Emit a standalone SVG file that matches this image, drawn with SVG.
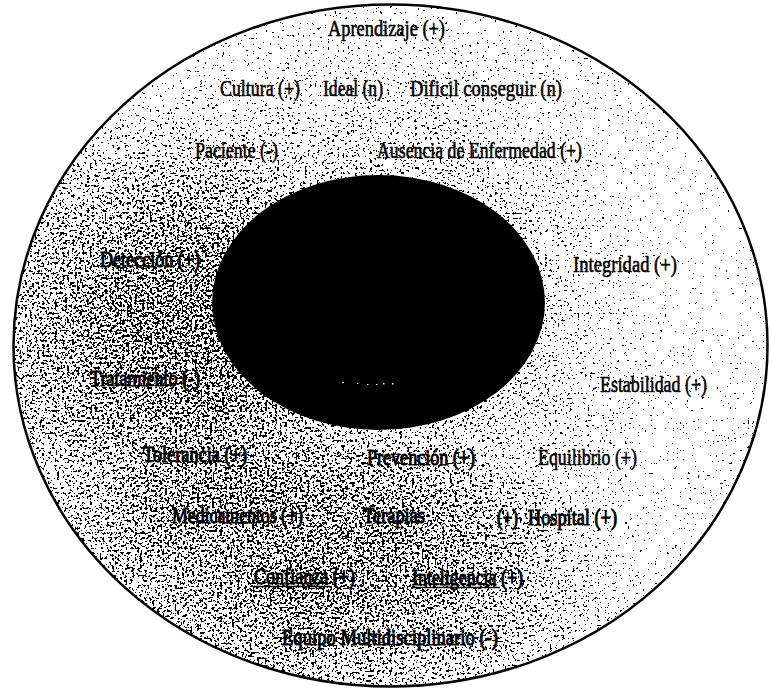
<svg xmlns="http://www.w3.org/2000/svg" width="772" height="691" viewBox="0 0 772 691">
<style>
  .lbl { font-family: "Liberation Serif", "Times New Roman", serif; font-size: 23px; fill: #000; stroke: #000; stroke-width: 0.6; }
  .bold { stroke-width: 1.1; }
  .ul { stroke: #000; stroke-width: 1.5; }
  .outer { fill: none; stroke: #000; stroke-width: 2.5; }
  .core { fill: #000; }
</style>
<defs>
  <clipPath id="outerClip"><ellipse cx="390.5" cy="345.5" rx="377" ry="341"/></clipPath>
  <filter id="speck" x="0" y="0" width="772" height="691" filterUnits="userSpaceOnUse" color-interpolation-filters="sRGB">
    <feTurbulence type="fractalNoise" baseFrequency="0.4" numOctaves="3" seed="11" result="n"/>
    <feColorMatrix in="n" type="matrix" values="1 0 0 0 0  1 0 0 0 0  1 0 0 0 0  0 0 0 0 1" result="g"/>
    <feComposite in="g" in2="SourceGraphic" operator="arithmetic" k1="0" k2="1" k3="1" k4="-0.5" result="v"/>
    <feColorMatrix in="v" type="matrix" values="0 0 0 0 0  0 0 0 0 0  0 0 0 0 0  1 0 0 0 0" result="a"/>
    <feComponentTransfer in="a"><feFuncA type="discrete" tableValues="0 1"/></feComponentTransfer>
  </filter>
  <radialGradient id="dLeft" gradientUnits="userSpaceOnUse" cx="120" cy="330" r="250">
    <stop offset="0" stop-color="#fff" stop-opacity="0.27"/>
    <stop offset="0.5" stop-color="#fff" stop-opacity="0.19"/>
    <stop offset="1" stop-color="#fff" stop-opacity="0"/>
  </radialGradient>
  <radialGradient id="dBottom" gradientUnits="userSpaceOnUse" cx="310" cy="590" r="270" gradientTransform="translate(310 590) scale(1.3 0.6) translate(-310 -590)">
    <stop offset="0" stop-color="#fff" stop-opacity="0.27"/>
    <stop offset="0.6" stop-color="#fff" stop-opacity="0.18"/>
    <stop offset="1" stop-color="#fff" stop-opacity="0"/>
  </radialGradient>
  <radialGradient id="dRing" gradientUnits="userSpaceOnUse" cx="370" cy="320" r="320">
    <stop offset="0.4" stop-color="#fff" stop-opacity="0.15"/>
    <stop offset="1" stop-color="#fff" stop-opacity="0"/>
  </radialGradient>
  <radialGradient id="dRight" gradientUnits="userSpaceOnUse" cx="720" cy="250" r="200">
    <stop offset="0" stop-color="#000" stop-opacity="0.15"/>
    <stop offset="1" stop-color="#000" stop-opacity="0"/>
  </radialGradient>
</defs>

<rect width="772" height="691" fill="#fff"/>

<g id="texture" clip-path="url(#outerClip)">
  <g filter="url(#speck)">
    <rect width="772" height="691" fill="#424242"/>
    <rect width="772" height="691" fill="url(#dRing)"/>
    <rect width="772" height="691" fill="url(#dLeft)"/>
    <rect width="772" height="691" fill="url(#dBottom)"/>
    <rect width="772" height="691" fill="url(#dRight)"/>
  </g>
</g>

<g id="outer-ellipse">
  <ellipse class="outer" cx="390.5" cy="345.5" rx="377" ry="341"/>
</g>

<g id="core">
  <ellipse class="core" cx="378.5" cy="302.5" rx="166.5" ry="127.5"/>
  <g fill="#fff">
    <rect x="342" y="382" width="2" height="1"/>
    <rect x="357" y="383" width="1.5" height="1"/>
    <rect x="367" y="384" width="1.5" height="1"/>
    <rect x="376" y="384" width="1.5" height="1"/>
    <rect x="383" y="383" width="1.5" height="1.5"/>
    <rect x="392" y="383" width="1.5" height="1.5"/>
  </g>
</g>

<g id="labels">
  <g id="n-aprendizaje"><text class="lbl" x="328" y="36" textLength="117" lengthAdjust="spacingAndGlyphs">Aprendizaje (+)</text></g>
  <g id="n-cultura"><text class="lbl" x="220" y="96" textLength="80" lengthAdjust="spacingAndGlyphs">Cultura (+)</text></g>
  <g id="n-ideal"><text class="lbl" x="323" y="96" textLength="60" lengthAdjust="spacingAndGlyphs">Ideal (n)</text></g>
  <g id="n-dificil"><text class="lbl" x="410" y="96" textLength="152" lengthAdjust="spacingAndGlyphs">Dificil conseguir (n)</text></g>
  <g id="n-paciente"><text class="lbl" x="195" y="158" textLength="83" lengthAdjust="spacingAndGlyphs">Paciente (-)</text></g>
  <g id="n-ausencia"><text class="lbl" x="377" y="158" textLength="205" lengthAdjust="spacingAndGlyphs">Ausencia de Enfermedad (+)</text></g>
  <g id="n-deteccion"><text class="lbl bold" x="100" y="267" textLength="100" lengthAdjust="spacingAndGlyphs">Detección (+)</text></g>
  <g id="n-integridad"><text class="lbl" x="573" y="272" textLength="104" lengthAdjust="spacingAndGlyphs">Integridad (+)</text></g>
  <g id="n-tratamiento"><text class="lbl bold" x="90" y="386" textLength="110" lengthAdjust="spacingAndGlyphs">Tratamiento (-)</text></g>
  <g id="n-estabilidad"><text class="lbl" x="600" y="392" textLength="107" lengthAdjust="spacingAndGlyphs">Estabilidad (+)</text></g>
  <g id="n-tolerancia"><text class="lbl bold" x="143" y="462" textLength="104" lengthAdjust="spacingAndGlyphs">Tolerancia (+)</text></g>
  <g id="n-prevencion"><text class="lbl bold" x="367" y="465" textLength="108" lengthAdjust="spacingAndGlyphs">Prevención (+)</text></g>
  <g id="n-equilibrio"><text class="lbl" x="538" y="465" textLength="99" lengthAdjust="spacingAndGlyphs">Equilibrio (+)</text></g>
  <g id="n-medicamentos"><text class="lbl bold" x="172" y="523" textLength="131" lengthAdjust="spacingAndGlyphs">Medicamentos (+)</text></g>
  <g id="n-terapias"><text class="lbl bold" x="363" y="523" textLength="62" lengthAdjust="spacingAndGlyphs">Terapias</text></g>
  <g id="n-plus"><text class="lbl bold" x="497" y="525" textLength="21" lengthAdjust="spacingAndGlyphs">(+)</text></g>
  <g id="n-hospital"><text class="lbl bold" x="528" y="525" textLength="89" lengthAdjust="spacingAndGlyphs">Hospital (+)</text></g>
  <g id="n-confianza"><text class="lbl bold" x="254" y="584" textLength="101" lengthAdjust="spacingAndGlyphs">Confianza (+)</text><line class="ul" x1="254" y1="586.5" x2="330" y2="586.5"/></g>
  <g id="n-inteligencia"><text class="lbl bold" x="412" y="585" textLength="111" lengthAdjust="spacingAndGlyphs">Inteligencia (+)</text><line class="ul" x1="412" y1="587.5" x2="500" y2="587.5"/></g>
  <g id="n-equipo"><text class="lbl bold" x="282" y="645" textLength="216" lengthAdjust="spacingAndGlyphs">Equipo Multidisciplinario (-)</text></g>
</g>
</svg>
